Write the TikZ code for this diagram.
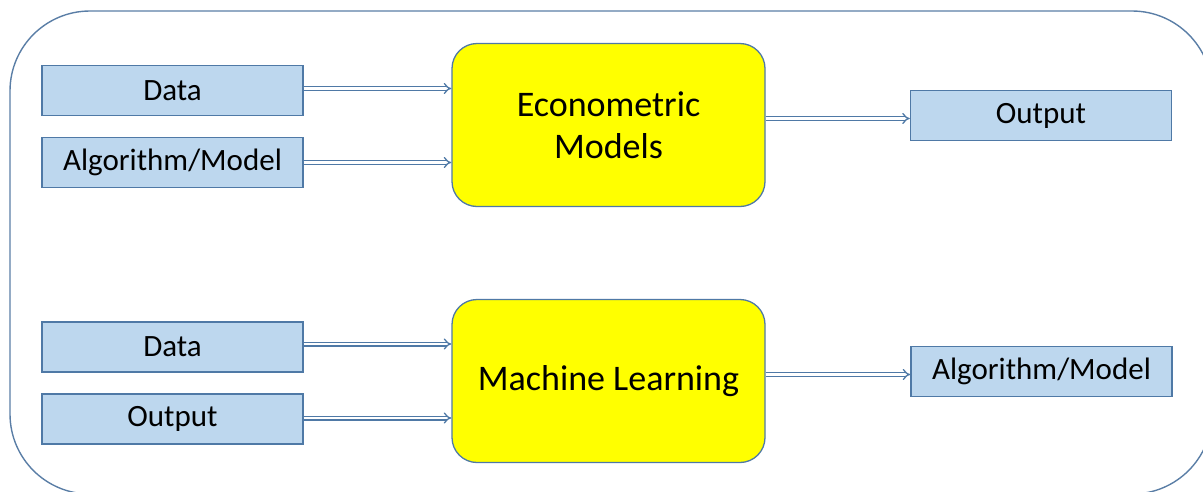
\documentclass[tikz,border=0pt]{standalone}
\usepackage{fontspec}
\setmainfont{Carlito}
\usetikzlibrary{arrows.meta}
\definecolor{boxblue}{HTML}{BDD7EE}
\definecolor{edgeblue}{HTML}{4F79A6}
\definecolor{frameblue}{HTML}{5A7EA6}
\definecolor{procyellow}{HTML}{FFFF00}
\tikzset{
  inbox/.style={draw=edgeblue, line width=1.3pt, fill=boxblue, minimum width=261pt,
    minimum height=50pt, inner sep=0pt, font=\fontsize{31}{36}\selectfont},
  procbox/.style={draw=edgeblue, line width=1.3pt, fill=procyellow, rounded corners=25pt,
    minimum width=313pt, minimum height=163pt, inner sep=0pt, align=center,
    font=\fontsize{36}{42}\selectfont},
  flow/.style={draw=edgeblue, line width=1.3pt, double=white, double distance=2.4pt,
    -{Implies}},
}
\begin{document}
\begin{tikzpicture}[x=1pt, y=-1pt]
\useasboundingbox (0,0) rectangle (1203,491);
% enclosing frame
\draw[frameblue, line width=1.4pt, rounded corners=80pt] (10,11) rectangle (1212,494);

% econometric workflow
\node[inbox] (d1) at (172.5,90.5) {Data};
\node[inbox] (a1) at (172.5,162.5) {Algorithm/Model};
\node[procbox] (em) at (608.5,125) {Econometric\\Models};
\node[inbox] (o1) at (1041,115.5) {Output};

% machine learning workflow
\node[inbox] (d2) at (172.5,347) {Data};
\node[inbox] (o2) at (172.5,419) {Output};
\node[procbox] (ml) at (608.5,381) {Machine Learning};
\node[inbox] (a2) at (1041.5,371.5) {Algorithm/Model};

\draw[flow] ([yshift=2pt]d1.east) -- ([yshift=2pt]d1.east -| em.west);
\draw[flow] (a1.east) -- (a1.east -| em.west);
\draw[flow] ([yshift=-3pt]o1.west -| em.east) -- ([yshift=-3pt]o1.west);

\draw[flow] ([yshift=3pt]d2.east) -- ([yshift=3pt]d2.east -| ml.west);
\draw[flow] ([yshift=1pt]o2.east) -- ([yshift=1pt]o2.east -| ml.west);
\draw[flow] ([yshift=-3pt]a2.west -| ml.east) -- ([yshift=-3pt]a2.west);
\end{tikzpicture}
\end{document}
